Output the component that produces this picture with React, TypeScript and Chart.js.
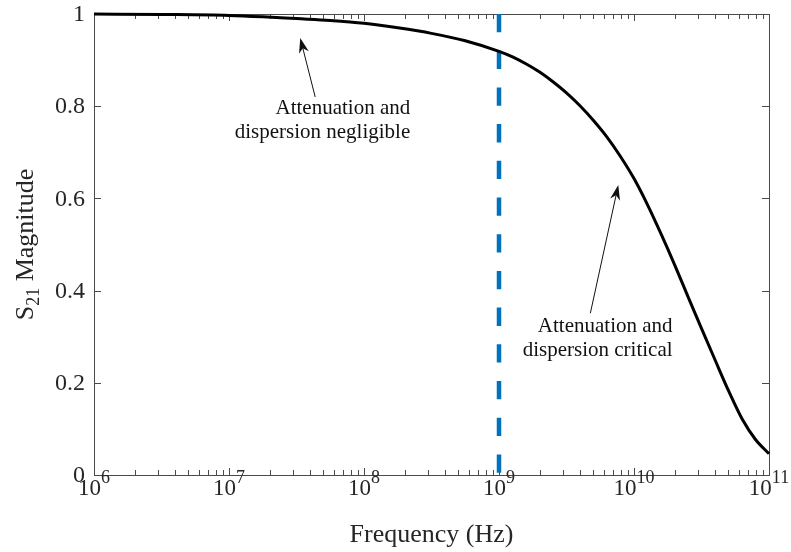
import React, { useEffect, useRef } from "react";
import { Chart, registerables } from "chart.js";

Chart.register(...registerables);

// ---- data ----
const FREQ_HZ = [
  1e6, 3.16e6, 1e7, 1.78e7, 3.16e7, 5.62e7, 1e8, 1.78e8, 3.16e8, 5.62e8,
  1e9, 1.26e9, 1.58e9, 2e9, 2.51e9, 3.16e9, 3.98e9, 5.01e9, 6.31e9, 7.94e9,
  1e10, 1.26e10, 1.58e10, 2e10, 2.51e10, 3.16e10, 3.98e10, 5.01e10, 6.31e10, 7.94e10, 1e11,
];
const S21_MAG = [
  1.0, 0.999, 0.997, 0.994, 0.99, 0.986, 0.98, 0.97, 0.958, 0.942,
  0.919, 0.907, 0.892, 0.874, 0.853, 0.829, 0.801, 0.769, 0.733, 0.691,
  0.643, 0.586, 0.524, 0.456, 0.387, 0.318, 0.25, 0.183, 0.122, 0.077, 0.046,
];
const CUTOFF_HZ = 1e9;
const X_DECADES = [6, 7, 8, 9, 10, 11];
const Y_TICKS = [0, 0.2, 0.4, 0.6, 0.8, 1];
const Y_TICK_LABELS = ["0", "0.2", "0.4", "0.6", "0.8", "1"];
const X_TITLE = "Frequency (Hz)";
const Y_TITLE_MAIN = "S";
const Y_TITLE_SUB = "21";
const Y_TITLE_REST = " Magnitude";

// annotations (in data coordinates)
const NOTES = [
  { lines: ["Attenuation and", "dispersion negligible"], textX: 2.2e8, textY: [0.796, 0.744], tail: [4.35e7, 0.82], tip: [3.37e7, 0.948] },
  { lines: ["Attenuation and", "dispersion critical"], textX: 1.93e10, textY: [0.323, 0.271], tail: [4.75e9, 0.351], tip: [7.65e9, 0.629] },
];

const FONT = "'Liberation Serif', 'Times New Roman', serif";
const AXIS_COLOR = "#4a4a4a";
const TEXT_COLOR = "#262626";

function drawArrow(ctx: CanvasRenderingContext2D, tx: number, ty: number, hx: number, hy: number) {
  const ang = Math.atan2(hy - ty, hx - tx);
  const L = 15, W = 5;
  ctx.save();
  ctx.strokeStyle = "#111";
  ctx.lineWidth = 1;
  ctx.beginPath();
  ctx.moveTo(tx, ty);
  ctx.lineTo(hx - Math.cos(ang) * L * 0.6, hy - Math.sin(ang) * L * 0.6);
  ctx.stroke();
  ctx.translate(hx, hy);
  ctx.rotate(ang);
  ctx.fillStyle = "#111";
  ctx.beginPath();
  ctx.moveTo(0, 0);
  ctx.lineTo(-L, -W);
  ctx.lineTo(-L * 0.7, 0);
  ctx.lineTo(-L, W);
  ctx.closePath();
  ctx.fill();
  ctx.restore();
}

const matlabAxes = {
  id: "matlabAxes",
  beforeDatasetsDraw(chart: any) {
    const { ctx, chartArea: a, scales } = chart;
    const xs = scales.x, ys = scales.y;
    ctx.save();
    ctx.strokeStyle = AXIS_COLOR;
    ctx.lineWidth = 1;
    ctx.strokeRect(Math.round(a.left) + 0.5, Math.round(a.top) + 0.5, Math.round(a.right - a.left), Math.round(a.bottom - a.top));
    ctx.beginPath();
    const major = 7, minor = 5;
    for (let i = 0; i < X_DECADES.length; i++) {
      const d = X_DECADES[i];
      const px = Math.round(xs.getPixelForValue(Math.pow(10, d))) + 0.5;
      ctx.moveTo(px, a.bottom); ctx.lineTo(px, a.bottom - major);
      ctx.moveTo(px, a.top); ctx.lineTo(px, a.top + major);
      if (i < X_DECADES.length - 1) {
        for (let m = 2; m <= 9; m++) {
          const mx = Math.round(xs.getPixelForValue(m * Math.pow(10, d))) + 0.5;
          ctx.moveTo(mx, a.bottom); ctx.lineTo(mx, a.bottom - minor);
          ctx.moveTo(mx, a.top); ctx.lineTo(mx, a.top + minor);
        }
      }
    }
    for (const v of Y_TICKS) {
      const py = Math.round(ys.getPixelForValue(v)) + 0.5;
      ctx.moveTo(a.left, py); ctx.lineTo(a.left + major, py);
      ctx.moveTo(a.right, py); ctx.lineTo(a.right - major, py);
    }
    ctx.stroke();
    ctx.restore();
  },
  afterDraw(chart: any) {
    const { ctx, chartArea: a, scales } = chart;
    const xs = scales.x, ys = scales.y;
    ctx.save();
    ctx.fillStyle = TEXT_COLOR;
    // y tick labels
    ctx.font = `24px ${FONT}`;
    ctx.textAlign = "right";
    ctx.textBaseline = "middle";
    Y_TICKS.forEach((v, i) => {
      ctx.fillText(Y_TICK_LABELS[i], a.left - 9, ys.getPixelForValue(v) + 1);
    });
    // x tick labels 10^d
    ctx.textBaseline = "alphabetic";
    ctx.textAlign = "left";
    for (const d of X_DECADES) {
      const px = xs.getPixelForValue(Math.pow(10, d));
      ctx.font = `23px ${FONT}`;
      const wb = ctx.measureText("10").width;
      ctx.font = `18px ${FONT}`;
      const ws = ctx.measureText(String(d)).width;
      const x0 = px - (wb + ws) / 2;
      const base = a.bottom + 20;
      ctx.font = `23px ${FONT}`;
      ctx.fillText("10", x0, base);
      ctx.font = `18px ${FONT}`;
      ctx.fillText(String(d), x0 + wb, base - 12);
    }
    // x title
    ctx.font = `26px ${FONT}`;
    ctx.textAlign = "center";
    ctx.fillText(X_TITLE, (a.left + a.right) / 2, a.bottom + 67);
    // y title (rotated)
    ctx.save();
    const cy = (a.top + a.bottom) / 2;
    ctx.translate(33, cy);
    ctx.rotate(-Math.PI / 2);
    ctx.textAlign = "left";
    ctx.font = `26px ${FONT}`;
    const wS = ctx.measureText(Y_TITLE_MAIN).width;
    const wR = ctx.measureText(Y_TITLE_REST).width;
    ctx.font = `18px ${FONT}`;
    const wSub = ctx.measureText(Y_TITLE_SUB).width;
    let x = -(wS + wSub + wR) / 2;
    ctx.font = `26px ${FONT}`;
    ctx.fillText(Y_TITLE_MAIN, x, 0);
    x += wS;
    ctx.font = `18px ${FONT}`;
    ctx.fillText(Y_TITLE_SUB, x, 6);
    x += wSub;
    ctx.font = `26px ${FONT}`;
    ctx.fillText(Y_TITLE_REST, x, 0);
    ctx.restore();
    // annotations
    ctx.fillStyle = "#111";
    ctx.font = `21px ${FONT}`;
    ctx.textAlign = "right";
    ctx.textBaseline = "middle";
    for (const n of NOTES) {
      const tx = xs.getPixelForValue(n.textX);
      n.lines.forEach((ln, i) => ctx.fillText(ln, tx, ys.getPixelForValue(n.textY[i])));
      drawArrow(ctx, xs.getPixelForValue(n.tail[0]), ys.getPixelForValue(n.tail[1]), xs.getPixelForValue(n.tip[0]), ys.getPixelForValue(n.tip[1]));
    }
    ctx.restore();
  },
};

export default function App() {
  const ref = useRef<HTMLCanvasElement | null>(null);
  useEffect(() => {
    if (!ref.current) return;
    const chart = new Chart(ref.current, {
      type: "line",
      data: {
        datasets: [
          {
            data: FREQ_HZ.map((f, i) => ({ x: f, y: S21_MAG[i] })),
            borderColor: "#000",
            borderWidth: 3,
            pointRadius: 0,
            cubicInterpolationMode: "monotone",
            fill: false,
            clip: false as any,
            order: 1,
          },
          {
            data: [{ x: CUTOFF_HZ, y: 1 }, { x: CUTOFF_HZ, y: 0 }],
            borderColor: "#0072BD",
            borderWidth: 4.5,
            borderDash: [18.3, 18.4],
            borderCapStyle: "butt",
            pointRadius: 0,
            fill: false,
            order: 2,
          },
        ],
      },
      options: {
        animation: false,
        responsive: false,
        maintainAspectRatio: false,
        layout: { padding: { left: 94, right: 22, top: 14, bottom: 77 } },
        scales: {
          x: { type: "logarithmic", min: 1e6, max: 1e11, display: false },
          y: { type: "linear", min: 0, max: 1, display: false },
        },
        plugins: { legend: { display: false }, tooltip: { enabled: false } },
        events: [],
      },
      plugins: [matlabAxes],
    });
    return () => chart.destroy();
  }, []);
  return (
    <div style={{ position: "fixed", left: 0, top: 0, width: 791, height: 552, background: "#fff" }}>
      <canvas ref={ref} width={791} height={552} style={{ display: "block", width: 791, height: 552 }} />
    </div>
  );
}
